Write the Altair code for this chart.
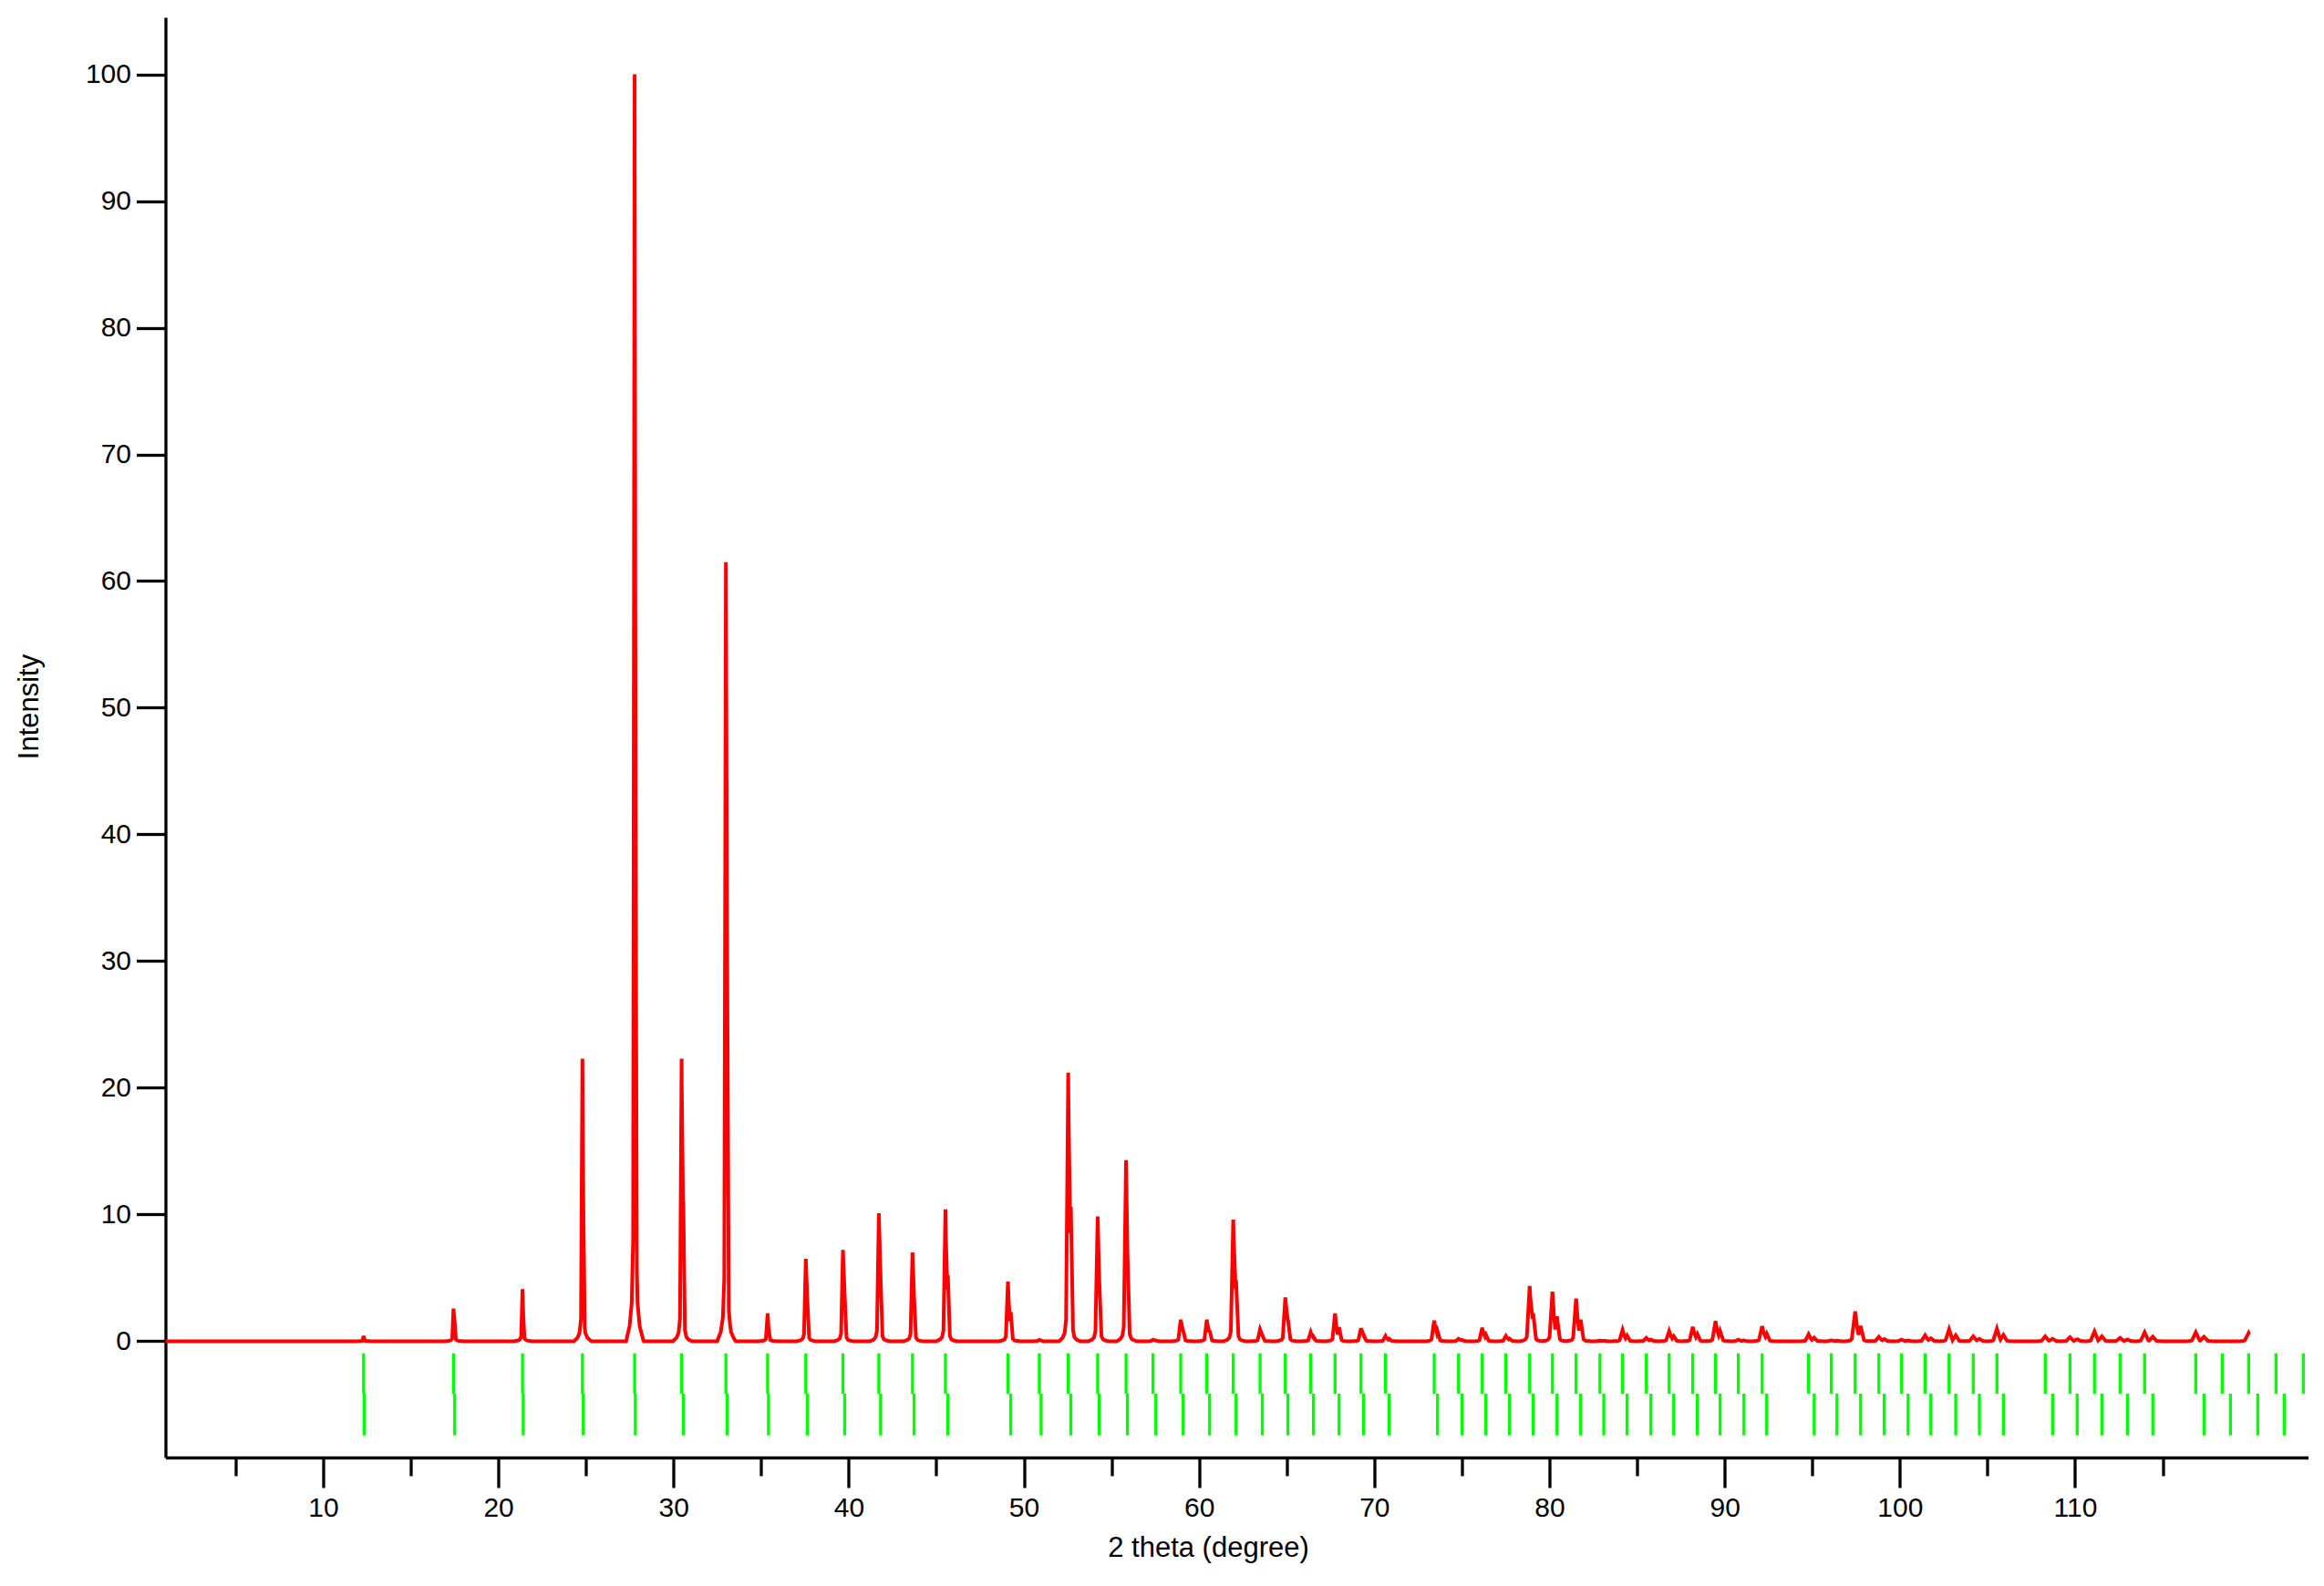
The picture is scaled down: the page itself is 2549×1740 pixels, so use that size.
import altair as alt
import numpy as np
import pandas as pd

# ---------------- data ----------------
# Reflection positions (2 theta, degree): upper tick row (K-alpha1) and lower tick row (K-alpha2)
ka1_pos = [12.31, 17.44, 21.38, 24.80, 27.78, 30.46, 32.99, 35.37, 37.55, 39.67,
           41.72, 43.64, 45.52, 49.09, 50.88, 52.53, 54.21, 55.83, 57.37, 58.95,
           60.44, 61.95, 63.48, 64.92, 66.37, 67.76, 69.24, 70.64, 73.42, 74.81,
           76.16, 77.51, 78.87, 80.17, 81.52, 82.88, 84.17, 85.53, 86.83, 88.18,
           89.48, 90.78, 92.14, 94.79, 96.09, 97.45, 98.80, 100.10, 101.44, 102.81,
           104.19, 105.54, 108.30, 109.71, 111.11, 112.57, 113.97, 116.89, 118.40, 119.91,
           121.47, 123.03]
ka2_pos = [12.34, 17.51, 21.42, 24.85, 27.82, 30.56, 33.06, 35.42, 37.64, 39.77,
           41.82, 43.73, 45.66, 49.25, 50.98, 52.68, 54.30, 55.91, 57.53, 59.09,
           60.60, 62.11, 63.61, 65.07, 66.53, 67.99, 69.39, 70.85, 73.61, 75.01,
           76.37, 77.72, 79.07, 80.43, 81.78, 83.10, 84.43, 85.79, 87.09, 88.44,
           89.74, 91.10, 92.40, 95.11, 96.41, 97.76, 99.11, 100.47, 101.77, 103.19,
           104.54, 105.91, 108.72, 110.12, 111.53, 112.99, 114.44, 117.36, 118.87, 120.43,
           121.94]

# Peak intensities of the pattern (red line), K-alpha1 and K-alpha2 components
h_ka1 = [0.41, 2.57, 4.1, 22.3, 100.0, 22.3, 61.5, 2.2, 6.5, 7.2,
         10.1, 7.0, 10.4, 4.7, 0.1, 21.2, 9.85, 14.3, 0.12, 1.7,
         1.7, 9.6, 0.94, 3.45, 0.7, 2.2, 1.03, 0.41, 1.63, 0.19,
         1.05, 0.41, 4.36, 3.9, 3.36, 0.05, 0.89, 0.26, 0.79, 1.13,
         1.58, 0.12, 1.18, 0.55, 0.07, 2.35, 0.34, 0.12, 0.46, 0.94,
         0.38, 0.98, 0.38, 0.31, 0.77, 0.26, 0.7, 0.7, 0.0, 0.65]
h_ka2 = [0.2, 1.5, 2.0, 11.0, 50.0, 11.0, 31.0, 1.1, 3.2, 3.6,
         5.0, 3.5, 5.2, 2.3, 0.05, 10.6, 4.9, 7.1, 0.06, 0.85,
         0.85, 4.8, 0.47, 1.7, 0.35, 1.1, 0.5, 0.2, 0.8, 0.1,
         0.52, 0.2, 2.2, 1.95, 1.7, 0.03, 0.45, 0.13, 0.4, 0.57,
         0.8, 0.06, 0.6, 0.28, 0.04, 1.2, 0.17, 0.06, 0.23, 0.47,
         0.19, 0.5, 0.19, 0.16, 0.38, 0.13, 0.35, 0.35, 0.0, 0.0]

pattern_start = 1.0
pattern_end = 119.95

major_ticks = [10, 20, 30, 40, 50, 60, 70, 80, 90, 100, 110]
minor_ticks = [5, 15, 25, 35, 45, 55, 65, 75, 85, 95, 105, 115]
y_ticks = [0, 10, 20, 30, 40, 50, 60, 70, 80, 90, 100]

# ---------------- build the line table from the peaks ----------------
# each reflection component is drawn as a sharp spike with small feet;
# the pattern is the upper envelope of all components, taken at their vertices.
FOOT_DX = [-0.40, -0.20, -0.08, 0.0]
FOOT_FR = [0.0, 0.012, 0.03, 0.08]


def component(center, height, w):
    xs = [center - w + d for d in FOOT_DX] + [center] + [center + w - d for d in FOOT_DX[::-1]]
    ys = [height * f for f in FOOT_FR] + [height] + [height * f for f in FOOT_FR[::-1]]
    return np.array(xs), np.array(ys)


comps = []
for x1, x2, a, b in zip(ka1_pos, ka2_pos, h_ka1, h_ka2):
    w = 0.06 + 0.0015 * (x1 - 10)
    if a > 0:
        comps.append(component(x1, a, w))
    if b > 0:
        comps.append(component(x2, b, w))

xs_all = np.unique(np.concatenate([[pattern_start, pattern_end]] + [c[0] for c in comps]))
xs_all = xs_all[(xs_all >= pattern_start) & (xs_all <= pattern_end)]
ys_all = np.zeros_like(xs_all)
for cx, cy in comps:
    ys_all = np.maximum(ys_all, np.interp(xs_all, cx, cy, left=0.0, right=0.0))

line_df = pd.DataFrame({"x": xs_all, "y": ys_all, "o": np.arange(len(xs_all))})

ka1_df = pd.DataFrame({"pos": [p for p in ka1_pos if p <= 123.3]})
ka2_df = pd.DataFrame({"pos": [p for p in ka2_pos if p <= 123.3]})

# ---------------- chart ----------------
FONT = "Liberation Sans"
RED = "#FF0000"
GREEN = "#00FF00"

x_scale = alt.Scale(domain=[1.0, 123.3], nice=False, zero=False)
y_scale = alt.Scale(domain=[-9.18, 104.5], nice=False, zero=False)

major_axis = alt.Axis(
    orient="bottom", values=major_ticks, format="d",
    tickSize=33, tickWidth=3.3, tickColor="black",
    domainWidth=3.3, domainColor="black",
    labelFont=FONT, labelFontSize=30, labelColor="black", labelPadding=7,
    labelFlush=False, labelOverlap=False, grid=False,
    title="2 theta (degree)", titleFont=FONT, titleFontSize=31,
    titleFontWeight="normal", titleColor="black",
    titleX=1143.5, titleY=108.7, titleBaseline="alphabetic", titleAlign="center",
)
minor_axis = alt.Axis(
    orient="bottom", values=minor_ticks, tickSize=20, tickWidth=3.3,
    tickColor="black", labels=False, domain=False, grid=False, title="",
)
y_axis = alt.Axis(
    values=y_ticks, format="d",
    tickSize=32, tickWidth=3.3, tickColor="black",
    domainWidth=3.3, domainColor="black",
    labelFont=FONT, labelFontSize=30, labelColor="black", labelPadding=6,
    labelFlush=False, grid=False,
    title="Intensity", titleFont=FONT, titleFontSize=31, titleFontWeight="normal",
    titleColor="black", titleAngle=270, titleX=-140, titleY=756,
    titleBaseline="alphabetic", titleAlign="center",
)

line = alt.Chart(line_df).mark_line(color=RED, strokeWidth=4, strokeJoin="miter").encode(
    x=alt.X("x:Q", scale=x_scale, axis=major_axis),
    y=alt.Y("y:Q", scale=y_scale, axis=y_axis),
    order="o:Q",
)

upper = alt.Chart(ka1_df).mark_rule(color=GREEN, strokeWidth=3.3).encode(
    x=alt.X("pos:Q", scale=x_scale, axis=None),
    y=alt.datum(-0.96),
    y2=alt.datum(-4.14),
)

lower = alt.Chart(ka2_df).mark_rule(color=GREEN, strokeWidth=3.3).encode(
    x=alt.X("pos:Q", scale=x_scale, axis=minor_axis),
    y=alt.datum(-4.14),
    y2=alt.datum(-7.43),
)

chart = alt.layer(line, upper, lower).resolve_scale(
    x="shared", y="shared"
).resolve_axis(
    x="independent"
).properties(
    width=2350, height=1580,
    autosize=alt.AutoSizeParams(type="none"),
    padding={"left": 173.5, "top": 11, "right": 9, "bottom": 125},
    background="white",
).configure_view(strokeWidth=0)

chart.save("out.html", embed_options={"renderer": "svg", "actions": False})
